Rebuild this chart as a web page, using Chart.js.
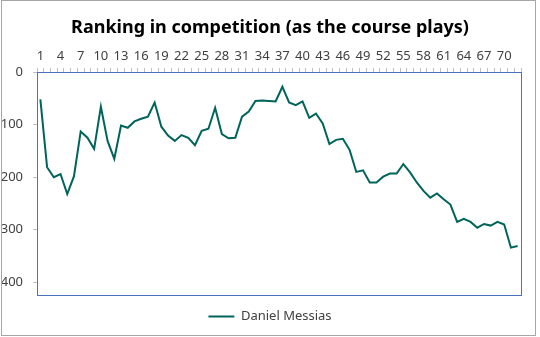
<!DOCTYPE html>
<html>
<head>
<meta charset="utf-8">
<script src="https://cdn.jsdelivr.net/npm/chart.js@4/dist/chart.umd.min.js"></script>
<style>
  html, body { margin: 0; padding: 0; background: #fff; }
  canvas { display: block; }
</style>
</head>
<body>
<canvas id="rank-chart" width="540" height="337"></canvas>
<script>
const TITLE = "Ranking in competition (as the course plays)";
const SERIES_NAME = "Daniel Messias";
const ROUNDS = [
  "1", "2", "3", "4", "5", "6", "7", "8", "9", "10", "11", "12",
  "13", "14", "15", "16", "17", "18", "19", "20", "21", "22", "23", "24",
  "25", "26", "27", "28", "29", "30", "31", "32", "33", "34", "35", "36",
  "37", "38", "39", "40", "41", "42", "43", "44", "45", "46", "47", "48",
  "49", "50", "51", "52", "53", "54", "55", "56", "57", "58", "59", "60",
  "61", "62", "63", "64", "65", "66", "67", "68", "69", "70", "71", "72"
];
const RANKING = [
  52, 181, 200, 194, 232, 198, 113, 125, 146, 66, 131, 165,
  102, 106, 94, 89, 85, 58, 104, 121, 131, 120, 125, 139,
  112, 108, 68, 118, 126, 125, 85, 75, 55, 54, 55, 56,
  28, 58, 63, 56, 87, 79, 98, 137, 129, 127, 148, 190,
  187, 210, 210, 199, 193, 193, 175, 191, 210, 226, 239, 231,
  242, 252, 285, 279, 285, 296, 289, 292, 285, 290, 334, 331
];
const RANK_TICKS = [0, 100, 200, 300, 400];

const LINE_COLOR = "#00645a";
const PLOT_BORDER = "#4a72c4";
const TICK_COLOR = "#bfbfbf";

Chart.defaults.font.family = "'Noto Sans', sans-serif";
Chart.defaults.color = "#404040";

// outer frame of the chart and the blue box round the plot
const frames = {
  id: "frames",
  beforeDraw(chart) {
    const ctx = chart.ctx;
    ctx.save();
    ctx.fillStyle = "#fff";
    ctx.fillRect(0, 0, chart.width, chart.height);
    ctx.restore();
  },
  afterDraw(chart) {
    const ctx = chart.ctx;
    const a = chart.chartArea;
    ctx.save();
    ctx.lineWidth = 1;
    ctx.strokeStyle = PLOT_BORDER;
    ctx.strokeRect(Math.round(a.left) + 0.5, Math.round(a.top) + 0.5,
      Math.round(a.right - a.left), Math.round(a.bottom - a.top));
    ctx.strokeStyle = "#a6a6a6";
    ctx.strokeRect(1.5, 0.5, 534, 335);
    ctx.restore();
  }
};

new Chart(document.getElementById("rank-chart"), {
  type: "line",
  data: {
    labels: ROUNDS,
    datasets: [{
      label: SERIES_NAME,
      data: RANKING,
      borderColor: LINE_COLOR,
      backgroundColor: LINE_COLOR,
      borderWidth: 2,
      pointRadius: 0,
      tension: 0,
      fill: false
    }]
  },
  options: {
    responsive: false,
    animation: false,
    layout: { padding: { left: 0, right: 0, top: 0, bottom: 4 } },
    plugins: {
      title: {
        display: true,
        text: TITLE,
        color: "#000",
        font: { size: 18, weight: "bold" },
        padding: { top: 17, bottom: 0 }
      },
      legend: {
        position: "bottom",
        labels: {
          usePointStyle: true,
          pointStyle: "line",
          pointStyleWidth: 26,
          boxHeight: 13,
          padding: 15,
          color: "#404040",
          font: { size: 13 }
        }
      },
      tooltip: { enabled: false }
    },
    scales: {
      x: {
        position: "top",
        offset: true,
        border: { display: false },
        grid: {
          offset: true,
          drawOnChartArea: false,
          drawTicks: true,
          tickLength: 4,
          color: TICK_COLOR
        },
        ticks: {
          autoSkip: false,
          maxRotation: 0,
          padding: 4,
          color: "#404040",
          font: { size: 13 },
          callback: (v, i) => (i % 3 === 0 ? ROUNDS[i] : "")
        },
        afterFit: (scale) => { scale.height = 33.4; }
      },
      y: {
        reverse: true,
        min: 0,
        max: 424,
        border: { display: false },
        grid: {
          drawOnChartArea: false,
          drawTicks: true,
          tickLength: 4,
          color: TICK_COLOR
        },
        ticks: {
          padding: 10,
          color: "#404040",
          font: { size: 13 }
        },
        afterBuildTicks: (scale) => {
          scale.ticks = RANK_TICKS.map(v => ({ value: v }));
        },
        afterFit: (scale) => { scale.width = 37; }
      },
      // empty right-hand margin so the plot ends where the reference does
      spacer: {
        position: "right",
        border: { display: false },
        grid: { display: false },
        ticks: { display: false },
        afterFit: (scale) => { scale.width = 19; }
      }
    }
  },
  plugins: [frames]
});
</script>
</body>
</html>
